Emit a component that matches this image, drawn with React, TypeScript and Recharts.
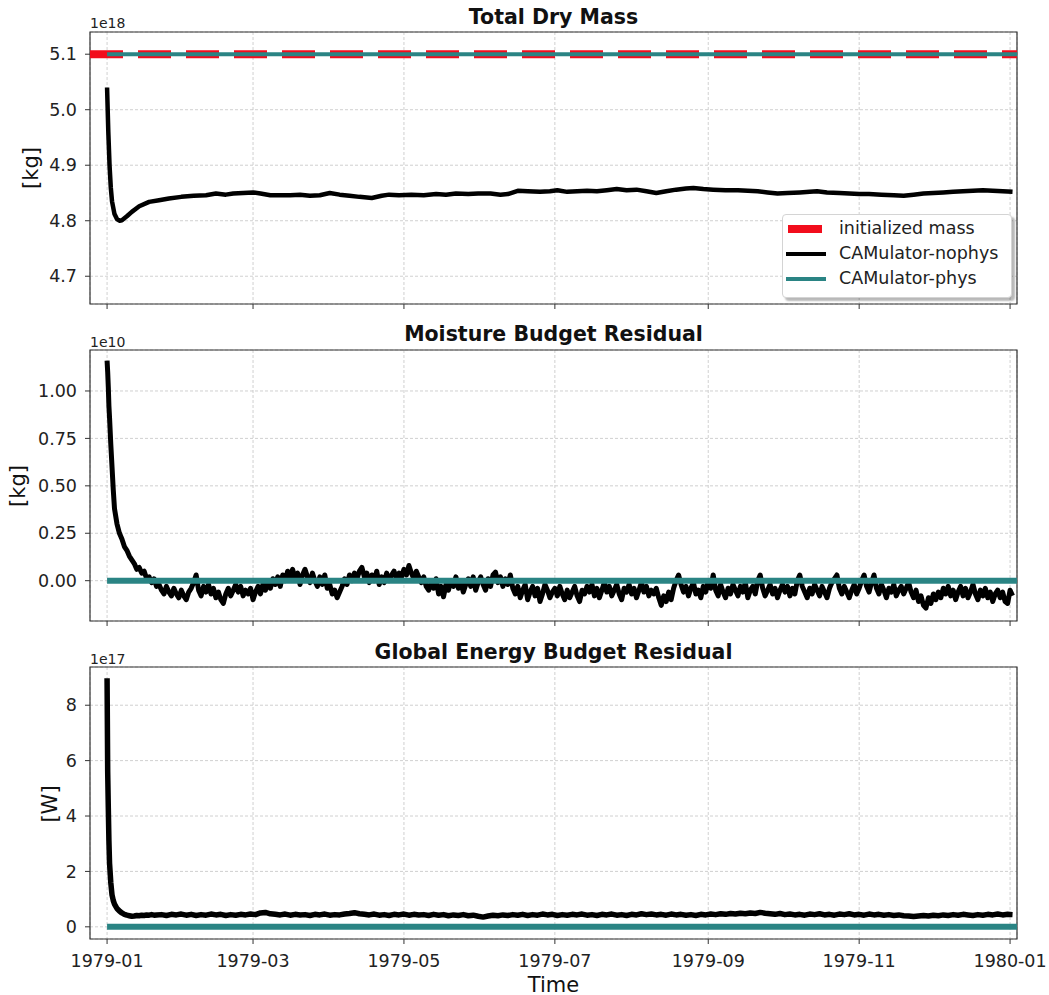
import React from 'react';
import { LineChart, Line, XAxis, YAxis, CartesianGrid, ReferenceLine, ReferenceArea } from 'recharts';

const FONT = '"DejaVu Sans", Verdana, sans-serif';

// ---- x axis (days since 1979-01-01) ----
const xTickDays = [0, 59, 120, 181, 243, 304, 365];
const xTickLabels = ['1979-01', '1979-03', '1979-05', '1979-07', '1979-09', '1979-11', '1980-01'];
const X_DOMAIN: [number, number] = [-6.9, 367.8];

// ---- panel titles / labels ----
const titles = ['Total Dry Mass', 'Moisture Budget Residual', 'Global Energy Budget Residual'];
const offsetTexts = ['1e18', '1e10', '1e17'];
const yLabels = ['[kg]', '[kg]', '[W]'];

// ---- legend ----
const legendLabels = ['initialized mass', 'CAMulator-nophys', 'CAMulator-phys'];
const RED = '#f20d1c';
const BLACK = '#000000';
const TEAL = '#2a8484';

// ---- Total dry mass (units of 1e18 kg) ----
const INIT_MASS = 5.1;
const topDays = [
  0, 0.5, 1, 1.5, 2, 3, 4, 5, 6, 8,
  10, 13, 17, 21, 25, 30, 35, 40, 44, 48,
  51, 55, 59, 62, 66, 70, 74, 78, 82, 86,
  90, 94, 98, 102, 107, 111, 114, 118, 123, 128,
  133, 137, 141, 146, 150, 155, 159, 162, 166, 170,
  175, 179, 182, 186, 190, 194, 198, 202, 206, 210,
  214, 218, 222, 226, 230, 234, 237, 241, 245, 250,
  255, 259, 263, 267, 271, 275, 280, 284, 287, 291,
  296, 300, 304, 308, 313, 318, 322, 326, 330, 334,
  338, 342, 346, 350, 354, 358, 362, 366,
];
const massNophys = [
  5.04, 4.96, 4.9, 4.86, 4.835, 4.812, 4.803, 4.8, 4.801, 4.808,
  4.816, 4.826, 4.834, 4.837, 4.84, 4.843, 4.845, 4.846, 4.849, 4.847,
  4.849, 4.85, 4.851, 4.849, 4.846, 4.846, 4.846, 4.847, 4.845, 4.846,
  4.85, 4.847, 4.845, 4.843, 4.841, 4.845, 4.847, 4.846, 4.847, 4.846,
  4.848, 4.847, 4.849, 4.848, 4.849, 4.849, 4.847, 4.848, 4.854, 4.853,
  4.852, 4.853, 4.855, 4.852, 4.853, 4.854, 4.853, 4.855, 4.857, 4.855,
  4.856, 4.853, 4.85, 4.853, 4.856, 4.858, 4.859, 4.857, 4.856, 4.855,
  4.855, 4.854, 4.853, 4.851, 4.849, 4.85, 4.851, 4.852, 4.853, 4.851,
  4.85, 4.849, 4.848, 4.848, 4.847, 4.846, 4.845, 4.847, 4.849, 4.85,
  4.851, 4.852, 4.853, 4.854, 4.855, 4.854, 4.853, 4.852,
];
const physDays = [0, 370];
const massPhys = [5.1, 5.1];

// ---- Moisture budget residual (units of 1e10 kg), daily ----
const moistDays = [
  0, 0.25, 0.5, 0.75, 1, 1.5, 2, 2.5, 3, 4, 5, 6, 7, 8, 9, 10, 11, 12, 13, 14, 15, 16, 17, 18, 19, 20,
  21, 22, 23, 24, 25, 26, 27, 28, 29, 30,
  31, 32, 33, 34, 35, 36, 37, 38, 39, 40,
  41, 42, 43, 44, 45, 46, 47, 48, 49, 50,
  51, 52, 53, 54, 55, 56, 57, 58, 59, 60,
  61, 62, 63, 64, 65, 66, 67, 68, 69, 70,
  71, 72, 73, 74, 75, 76, 77, 78, 79, 80,
  81, 82, 83, 84, 85, 86, 87, 88, 89, 90,
  91, 92, 93, 94, 95, 96, 97, 98, 99, 100,
  101, 102, 103, 104, 105, 106, 107, 108, 109, 110,
  111, 112, 113, 114, 115, 116, 117, 118, 119, 120,
  121, 122, 123, 124, 125, 126, 127, 128, 129, 130,
  131, 132, 133, 134, 135, 136, 137, 138, 139, 140,
  141, 142, 143, 144, 145, 146, 147, 148, 149, 150,
  151, 152, 153, 154, 155, 156, 157, 158, 159, 160,
  161, 162, 163, 164, 165, 166, 167, 168, 169, 170,
  171, 172, 173, 174, 175, 176, 177, 178, 179, 180,
  181, 182, 183, 184, 185, 186, 187, 188, 189, 190,
  191, 192, 193, 194, 195, 196, 197, 198, 199, 200,
  201, 202, 203, 204, 205, 206, 207, 208, 209, 210,
  211, 212, 213, 214, 215, 216, 217, 218, 219, 220,
  221, 222, 223, 224, 225, 226, 227, 228, 229, 230,
  231, 232, 233, 234, 235, 236, 237, 238, 239, 240,
  241, 242, 243, 244, 245, 246, 247, 248, 249, 250,
  251, 252, 253, 254, 255, 256, 257, 258, 259, 260,
  261, 262, 263, 264, 265, 266, 267, 268, 269, 270,
  271, 272, 273, 274, 275, 276, 277, 278, 279, 280,
  281, 282, 283, 284, 285, 286, 287, 288, 289, 290,
  291, 292, 293, 294, 295, 296, 297, 298, 299, 300,
  301, 302, 303, 304, 305, 306, 307, 308, 309, 310,
  311, 312, 313, 314, 315, 316, 317, 318, 319, 320,
  321, 322, 323, 324, 325, 326, 327, 328, 329, 330,
  331, 332, 333, 334, 335, 336, 337, 338, 339, 340,
  341, 342, 343, 344, 345, 346, 347, 348, 349, 350,
  351, 352, 353, 354, 355, 356, 357, 358, 359, 360,
  361, 362, 363, 364, 365, 366,
];
const moistNophys = [
  1.16, 1.1, 1.02, 0.92, 0.86, 0.72, 0.6, 0.48, 0.38, 0.3, 0.25, 0.22, 0.18, 0.16, 0.13, 0.11, 0.09, 0.06, 0.07, 0.04, 0.05, 0.01, 0.02, -0.01, 0.01, -0.03,
  -0.02, -0.05, -0.07, -0.03, -0.06, -0.08, -0.04, -0.07, -0.09, -0.05,
  -0.08, -0.1, -0.06, -0.04, -0.01, 0.03, -0.05, -0.08, -0.03, -0.06,
  -0.02, -0.07, -0.04, -0.09, -0.06, -0.1, -0.12, -0.07, -0.04, -0.08,
  -0.05, -0.02, -0.06, -0.03, -0.08, -0.05, -0.07, -0.04, -0.1, -0.06,
  -0.03, -0.07, -0.02, -0.05, -0.01, -0.04, 0.01, -0.02, 0.02, -0.03,
  0.03, 0.0, 0.05, 0.02, 0.06, 0.01, 0.04, -0.02, 0.03, 0.06,
  0.02, -0.01, 0.04, 0.0, -0.03, 0.02, -0.02, 0.03, -0.04, -0.02,
  -0.07, -0.05, -0.09, -0.06, -0.03, 0.01, -0.02, 0.03, 0.0, 0.04,
  0.01, 0.05, 0.07, 0.02, 0.04, -0.01, 0.03, 0.0, 0.05, -0.02,
  0.02, -0.01, 0.04, 0.0, 0.03, 0.05, 0.01, 0.04, 0.02, 0.06,
  0.03, 0.08, 0.04, 0.01, 0.05, 0.02, -0.01, 0.02, -0.03, -0.05,
  -0.01, -0.04, 0.01, -0.07, -0.03, -0.085, -0.02, -0.05, 0.0, -0.03,
  0.02, -0.04, -0.01, -0.06, -0.02, 0.01, -0.03, 0.02, -0.05, -0.01,
  0.02, -0.02, -0.05, 0.01, -0.03, 0.03, 0.045, -0.01, 0.02, -0.03,
  0.01, -0.02, 0.03, -0.04, -0.07, -0.03, -0.09, -0.05, -0.02, -0.1,
  -0.06, -0.03, -0.08, -0.04, -0.11, -0.07, -0.02, -0.05, -0.09, -0.06,
  -0.04, -0.08, -0.03, -0.07, -0.1, -0.05, -0.09, -0.06, -0.03, -0.08,
  -0.11, -0.05, -0.07, -0.03, -0.06, -0.02, -0.08, -0.04, -0.09, -0.05,
  -0.01, -0.06, -0.03, -0.08, -0.05, -0.02, -0.07, -0.1, -0.04, -0.06,
  -0.02, -0.07, -0.04, -0.09, -0.05, -0.01, -0.06, -0.03, -0.08, -0.05,
  -0.07, -0.04, -0.09, -0.13, -0.08, -0.11, -0.06, -0.1, -0.04, 0.0,
  0.03, -0.02, -0.06, -0.03, -0.08, -0.04, -0.01, -0.07, -0.05, -0.09,
  -0.03, -0.06, 0.0, -0.04, 0.03, -0.05, -0.08, -0.02, -0.06, -0.09,
  -0.04, -0.07, -0.02, -0.05, -0.08, -0.03, -0.06, -0.01, -0.09, -0.05,
  -0.03, -0.07, 0.0, 0.03, -0.04, -0.08, -0.05, -0.02, -0.07, -0.04,
  -0.09, -0.05, -0.02, -0.06, -0.03, -0.08, -0.04, -0.07, 0.0, 0.03,
  -0.03, -0.06, -0.09, -0.04, -0.07, -0.02, -0.05, -0.08, -0.03, -0.06,
  -0.09, -0.04, -0.01, 0.01, 0.03, -0.04, -0.07, -0.03, -0.06, -0.09,
  -0.05, -0.02, -0.07, -0.04, 0.0, 0.03, -0.03, -0.06, -0.01, 0.03,
  -0.04, -0.07, -0.02, -0.05, -0.09, -0.04, -0.06, -0.02, -0.08, -0.05,
  -0.03, -0.07, -0.04, -0.01, -0.06, -0.09, -0.05, -0.11, -0.08, -0.13,
  -0.145, -0.09, -0.12, -0.07, -0.1, -0.06, -0.09, -0.04, -0.07, -0.03,
  -0.08, -0.05, -0.1, -0.06, -0.03, -0.08, -0.04, -0.09, -0.06, -0.02,
  -0.07, -0.1, -0.05, -0.08, -0.04, -0.09, -0.06, -0.11, -0.07, -0.05,
  -0.09, -0.06, -0.11, -0.12, -0.05, -0.08,
];
const moistPhys = [0, 0];

// ---- Global energy budget residual (units of 1e17 W), every 2 days ----
const energyDays = [
  0, 0.25, 0.5, 0.75, 1, 1.5, 2, 2.5, 3, 4, 5, 6, 7, 8, 9, 10, 11, 12, 13, 14, 15, 16, 17, 18, 19, 20,
  22, 24, 26, 28, 30, 32, 34, 36, 38, 40,
  42, 44, 46, 48, 50, 52, 54, 56, 58, 60,
  62, 64, 66, 68, 70, 72, 74, 76, 78, 80,
  82, 84, 86, 88, 90, 92, 94, 96, 98, 100,
  102, 104, 106, 108, 110, 112, 114, 116, 118, 120,
  122, 124, 126, 128, 130, 132, 134, 136, 138, 140,
  142, 144, 146, 148, 150, 152, 154, 156, 158, 160,
  162, 164, 166, 168, 170, 172, 174, 176, 178, 180,
  182, 184, 186, 188, 190, 192, 194, 196, 198, 200,
  202, 204, 206, 208, 210, 212, 214, 216, 218, 220,
  222, 224, 226, 228, 230, 232, 234, 236, 238, 240,
  242, 244, 246, 248, 250, 252, 254, 256, 258, 260,
  262, 264, 266, 268, 270, 272, 274, 276, 278, 280,
  282, 284, 286, 288, 290, 292, 294, 296, 298, 300,
  302, 304, 306, 308, 310, 312, 314, 316, 318, 320,
  322, 324, 326, 328, 330, 332, 334, 336, 338, 340,
  342, 344, 346, 348, 350, 352, 354, 356, 358, 360,
  362, 364, 366,
];
const energyNophys = [
  8.97, 5.6, 4.3, 3.1, 2.3, 1.6, 1.15, 0.95, 0.82, 0.66, 0.57, 0.5, 0.45, 0.42, 0.4, 0.38, 0.39, 0.41, 0.4, 0.42, 0.41, 0.43, 0.42, 0.44, 0.42, 0.43,
  0.44, 0.41, 0.45, 0.43, 0.46, 0.42, 0.45, 0.41, 0.44, 0.42,
  0.46, 0.43, 0.45, 0.41, 0.44, 0.42, 0.45, 0.43, 0.46, 0.44,
  0.5, 0.52, 0.47, 0.45, 0.43, 0.46, 0.42, 0.45, 0.43, 0.44,
  0.41, 0.45, 0.43, 0.46, 0.42, 0.44, 0.43, 0.46, 0.48, 0.51,
  0.47, 0.45, 0.43, 0.46, 0.42, 0.44, 0.41, 0.45, 0.43, 0.46,
  0.42, 0.45, 0.43, 0.44, 0.41, 0.45, 0.42, 0.44, 0.4, 0.43,
  0.41, 0.44, 0.4, 0.42, 0.38, 0.35, 0.39, 0.42, 0.4, 0.43,
  0.41, 0.44, 0.42, 0.45, 0.41, 0.44, 0.42, 0.46, 0.43, 0.45,
  0.41, 0.44, 0.42, 0.45, 0.43, 0.46, 0.42, 0.44, 0.41, 0.45,
  0.43, 0.46, 0.42, 0.44, 0.41, 0.45, 0.43, 0.47, 0.44, 0.46,
  0.43, 0.45, 0.42, 0.46, 0.43, 0.45, 0.42, 0.44, 0.41, 0.45,
  0.43, 0.46, 0.44, 0.47, 0.45, 0.48, 0.46, 0.49, 0.47, 0.5,
  0.48, 0.52, 0.49, 0.47, 0.45, 0.48, 0.44, 0.46, 0.43, 0.45,
  0.42, 0.46, 0.44, 0.47, 0.43, 0.45, 0.42, 0.46, 0.44, 0.47,
  0.43, 0.45, 0.42, 0.46, 0.43, 0.45, 0.42, 0.44, 0.41, 0.43,
  0.4, 0.39, 0.37, 0.39, 0.41, 0.39, 0.42, 0.4, 0.43, 0.41,
  0.44, 0.42, 0.45, 0.43, 0.41, 0.44, 0.42, 0.45, 0.43, 0.46,
  0.43, 0.45, 0.44,
];
const energyPhys = [0, 0];

const zip = (days: number[], vals: number[]) => days.map((d, i) => ({ day: d, v: vals[i] }));
const topData = zip(topDays, massNophys);
const topPhys = zip(physDays, massPhys);
const midData = zip(moistDays, moistNophys);
const midPhys = zip(physDays, moistPhys);
const botData = zip(energyDays, energyNophys);
const botPhys = zip(physDays, energyPhys);

const tickStyle = { fill: '#222', fontSize: 17.5, fontFamily: FONT };
const xFmt = (d: number) => {
  const i = xTickDays.indexOf(d);
  return i >= 0 ? xTickLabels[i] : '';
};
const NoLabel = () => <g />;

type PanelProps = {
  top: number;
  height: number;
  marginTop: number;
  xAxisHeight: number;
  showXLabels: boolean;
  yDomain: [number, number];
  yTicks: number[];
  yFmt: (v: number) => string;
  yTickMargin: number;
  nophys: { day: number; v: number }[];
  phys: { day: number; v: number }[];
  nophysWidth: number;
  physWidth: number;
  refLine?: number;
};

function Panel(p: PanelProps) {
  return (
    <div style={{ position: 'absolute', left: 0, top: p.top }}>
      <LineChart width={1049} height={p.height} margin={{ top: p.marginTop, right: 32, bottom: 0, left: 0 }}>
        <CartesianGrid stroke="#c4c4c4" strokeDasharray="3 2" strokeWidth={0.8} />
        <XAxis
          type="number"
          dataKey="day"
          domain={X_DOMAIN}
          ticks={xTickDays}
          interval={0}
          allowDataOverflow
          axisLine={false}
          tickLine={{ stroke: '#333', strokeWidth: 1 }}
          tickSize={5}
          tickMargin={11}
          height={p.xAxisHeight}
          tick={p.showXLabels ? tickStyle : NoLabel}
          tickFormatter={xFmt}
        />
        <YAxis
          type="number"
          domain={p.yDomain}
          ticks={p.yTicks}
          interval={0}
          allowDataOverflow
          width={90}
          axisLine={false}
          tickLine={{ stroke: '#333', strokeWidth: 1 }}
          tickSize={5}
          tickMargin={p.yTickMargin}
          tick={tickStyle}
          tickFormatter={p.yFmt}
        />
        {p.refLine !== undefined && (
          <ReferenceLine y={p.refLine} stroke={RED} strokeWidth={8} strokeDasharray="33 15" />
        )}
        <Line
          data={p.nophys}
          dataKey="v"
          type="linear"
          stroke={BLACK}
          strokeWidth={p.nophysWidth}
          strokeLinejoin="round"
          dot={false}
          isAnimationActive={false}
        />
        <Line
          data={p.phys}
          dataKey="v"
          type="linear"
          stroke={TEAL}
          strokeWidth={p.physWidth}
          dot={false}
          isAnimationActive={false}
        />
        <ReferenceArea
          x1={X_DOMAIN[0]}
          x2={X_DOMAIN[1]}
          y1={p.yDomain[0]}
          y2={p.yDomain[1]}
          fill="none"
          fillOpacity={0}
          stroke="#333"
          strokeWidth={1.2}
          ifOverflow="visible"
        />
      </LineChart>
    </div>
  );
}

const centered = (cx: number, cy: number, extra: React.CSSProperties = {}): React.CSSProperties => ({
  position: 'absolute',
  left: cx,
  top: cy,
  transform: 'translate(-50%, -50%)',
  whiteSpace: 'nowrap',
  lineHeight: 1,
  fontFamily: FONT,
  color: '#111',
  ...extra,
});

export default function App() {
  return (
    <div style={{ position: 'absolute', left: 0, top: 0, width: 1049, height: 995, background: '#fff', overflow: 'hidden' }}>
      <Panel
        top={0}
        height={330}
        marginTop={32}
        xAxisHeight={26}
        showXLabels={false}
        yDomain={[4.65, 5.14]}
        yTicks={[4.7, 4.8, 4.9, 5.0, 5.1]}
        yFmt={(v) => v.toFixed(1)}
        yTickMargin={8}
        nophys={topData}
        phys={topPhys}
        nophysWidth={4.5}
        physWidth={4}
        refLine={INIT_MASS}
      />
      <Panel
        top={330}
        height={310}
        marginTop={20}
        xAxisHeight={19}
        showXLabels={false}
        yDomain={[-0.2125, 1.216]}
        yTicks={[0, 0.25, 0.5, 0.75, 1.0]}
        yFmt={(v) => v.toFixed(2)}
        yTickMargin={8}
        nophys={midData}
        phys={midPhys}
        nophysWidth={5}
        physWidth={6}
      />
      <Panel
        top={640}
        height={355}
        marginTop={27}
        xAxisHeight={56}
        showXLabels={true}
        yDomain={[-0.44, 9.38]}
        yTicks={[0, 2, 4, 6, 8]}
        yFmt={(v) => String(v)}
        yTickMargin={8}
        nophys={botData}
        phys={botPhys}
        nophysWidth={5.5}
        physWidth={6}
      />

      {/* titles */}
      <div style={centered(553.5, 17, { fontWeight: 'bold', fontSize: 20.5 })}>{titles[0]}</div>
      <div style={centered(553.5, 334, { fontWeight: 'bold', fontSize: 20.5 })}>{titles[1]}</div>
      <div style={centered(553.5, 652, { fontWeight: 'bold', fontSize: 20.5 })}>{titles[2]}</div>

      {/* offset texts */}
      <div style={{ position: 'absolute', left: 90, top: 16, fontSize: 14, lineHeight: 1, fontFamily: FONT, color: '#222' }}>{offsetTexts[0]}</div>
      <div style={{ position: 'absolute', left: 90, top: 335, fontSize: 14, lineHeight: 1, fontFamily: FONT, color: '#222' }}>{offsetTexts[1]}</div>
      <div style={{ position: 'absolute', left: 90, top: 652, fontSize: 14, lineHeight: 1, fontFamily: FONT, color: '#222' }}>{offsetTexts[2]}</div>

      {/* y labels */}
      <div style={centered(31, 168, { fontSize: 21, transform: 'translate(-50%, -50%) rotate(-90deg)' })}>{yLabels[0]}</div>
      <div style={centered(18, 486, { fontSize: 21, transform: 'translate(-50%, -50%) rotate(-90deg)' })}>{yLabels[1]}</div>
      <div style={centered(50, 804, { fontSize: 21, transform: 'translate(-50%, -50%) rotate(-90deg)' })}>{yLabels[2]}</div>

      {/* x label */}
      <div style={centered(553.5, 985, { fontSize: 21 })}>Time</div>

      {/* legend */}
      <div
        style={{
          position: 'absolute',
          left: 782,
          top: 214,
          width: 228,
          height: 82,
          background: '#fff',
          border: '1px solid #d4d4d4',
          borderRadius: 4,
          boxShadow: '3px 3px 2px rgba(0,0,0,0.28)',
          fontFamily: FONT,
          fontSize: 17.5,
          color: '#222',
        }}
      >
        {legendLabels.map((lab, i) => (
          <div key={lab} style={{ position: 'absolute', left: 0, top: 14 + i * 25, width: '100%', height: 0 }}>
            <div
              style={{
                position: 'absolute',
                left: i === 0 ? 5 : 3,
                top: i === 0 ? -4 : -2,
                width: i === 0 ? 34 : 40,
                height: i === 0 ? 8 : 4,
                background: i === 0 ? RED : i === 1 ? BLACK : TEAL,
              }}
            />
            <div style={{ position: 'absolute', left: 56, top: 0, transform: 'translateY(-50%)', lineHeight: 1, whiteSpace: 'nowrap' }}>
              {lab}
            </div>
          </div>
        ))}
      </div>
    </div>
  );
}
